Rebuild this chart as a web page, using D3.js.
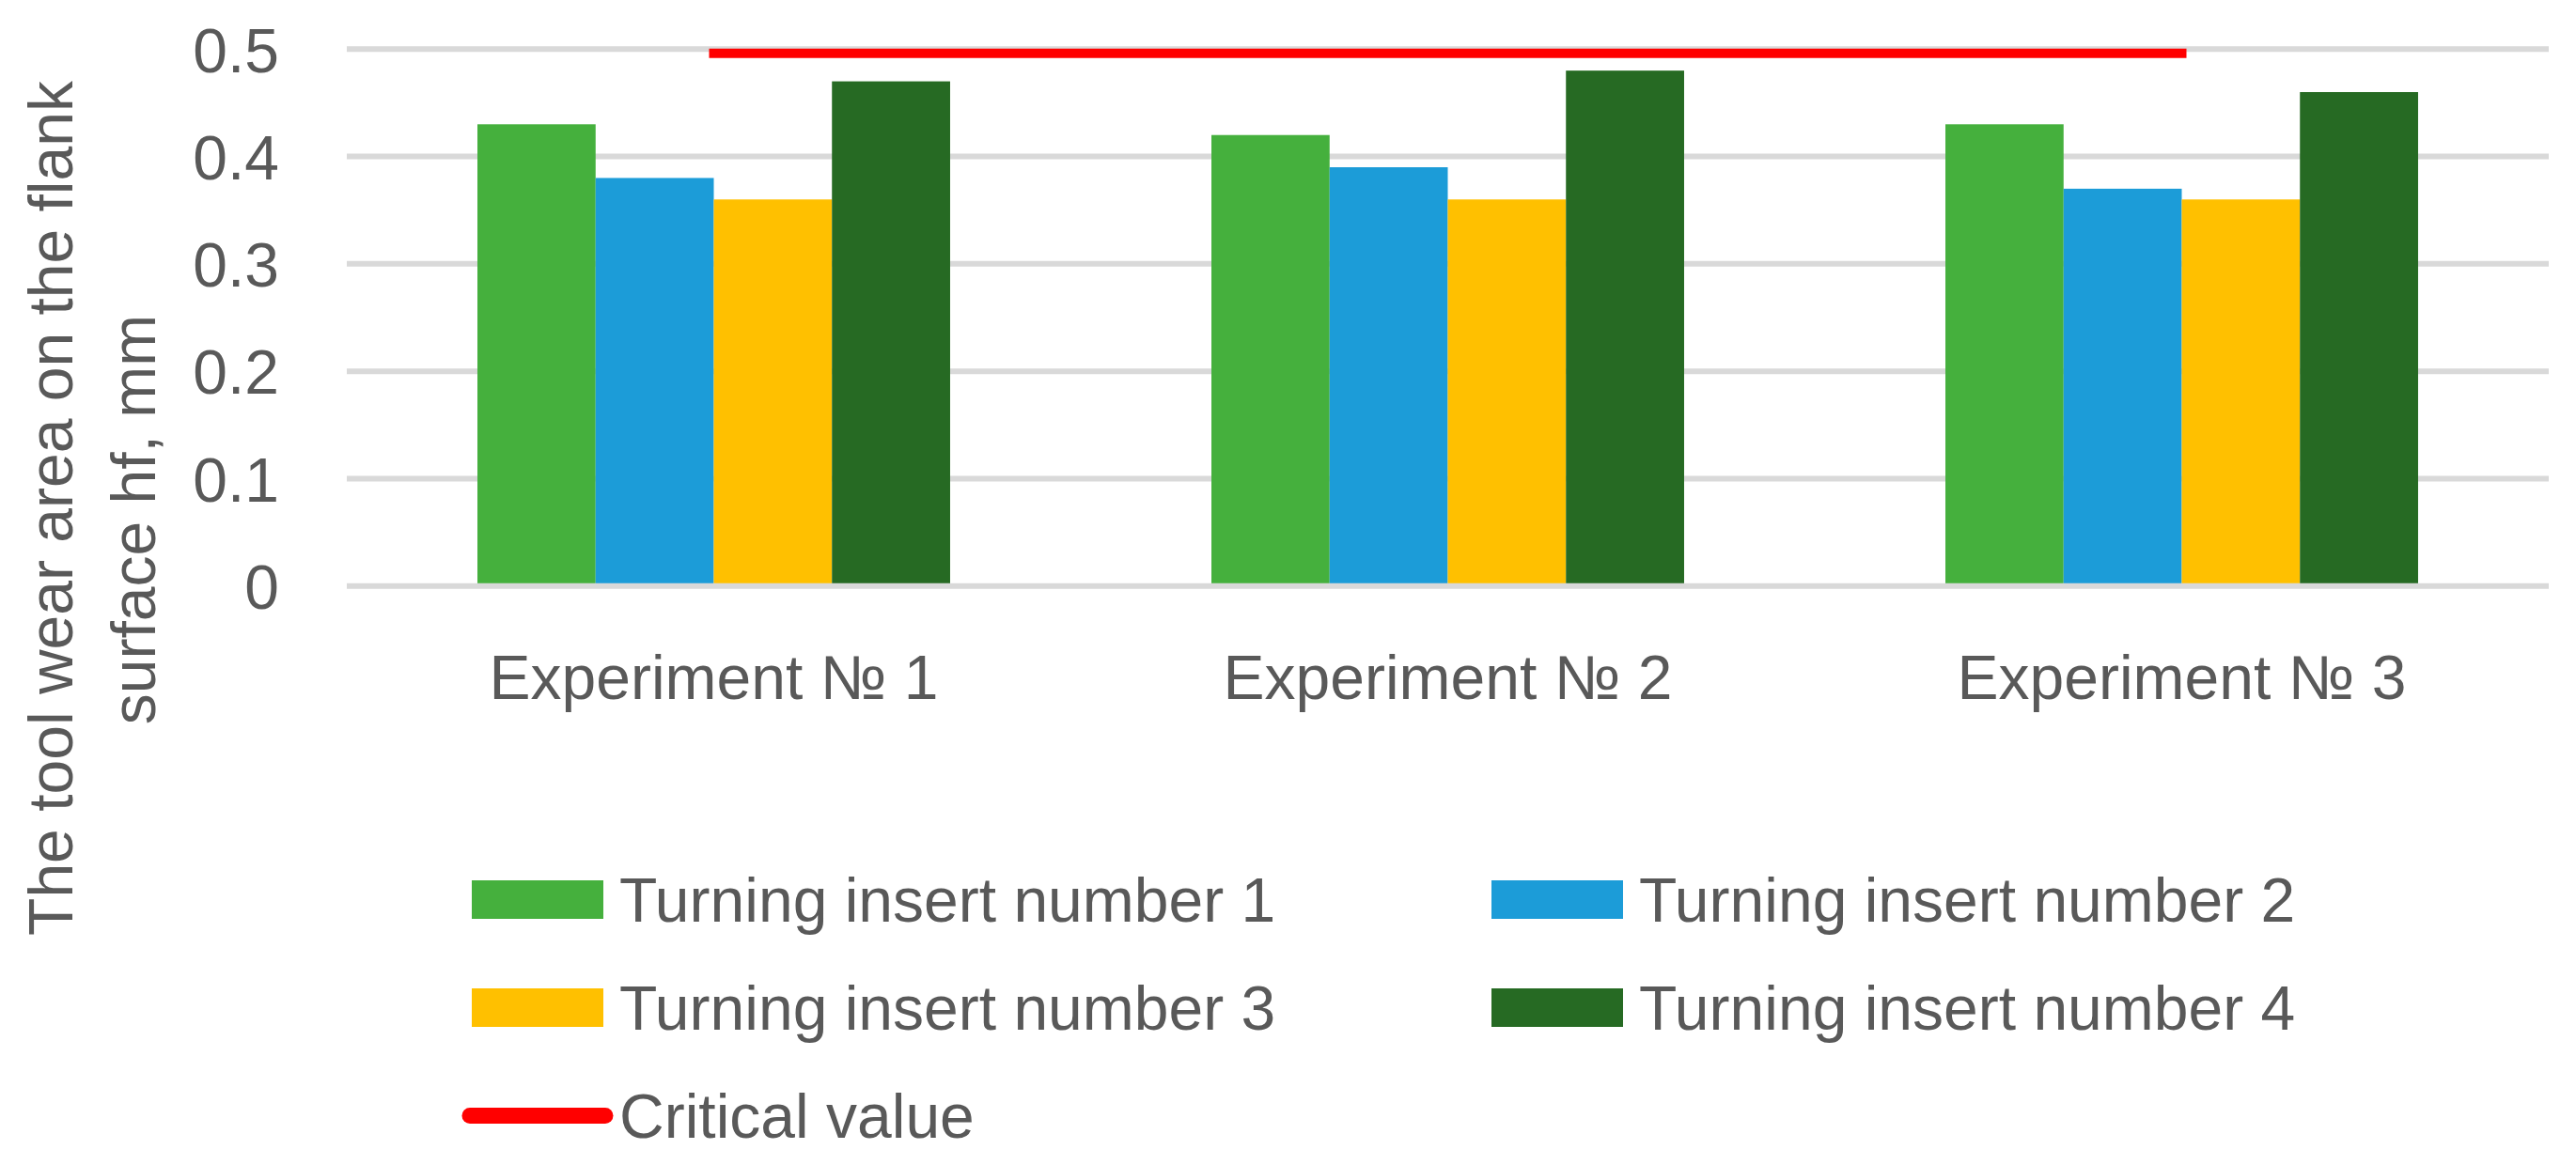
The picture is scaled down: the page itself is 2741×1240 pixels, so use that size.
<!DOCTYPE html>
<html>
<head>
<meta charset="utf-8">
<script src="https://cdn.jsdelivr.net/npm/d3@7"></script>
<style>
  html, body { margin: 0; padding: 0; background: #fff; }
  #chart { width: 2741px; height: 1240px; }
  text { font-family: "Liberation Sans", Arimo, Arial, sans-serif; fill: #595959; }
</style>
</head>
<body>
<div id="chart"></div>
<script>
// data
const experiments = ['Experiment № 1', 'Experiment № 2', 'Experiment № 3'];
const seriesNames = ['Turning insert number 1', 'Turning insert number 2', 'Turning insert number 3', 'Turning insert number 4'];
const insert1 = [0.43, 0.42, 0.43];
const insert2 = [0.38, 0.39, 0.37];
const insert3 = [0.36, 0.36, 0.36];
const insert4 = [0.47, 0.48, 0.46];
const criticalValue = [0.5, 0.5, 0.5];
const yTicks = [0, 0.1, 0.2, 0.3, 0.4, 0.5];
const colors = ['#45B03D', '#1C9CD8', '#FFC000', '#266A23'];

const series = [insert1, insert2, insert3, insert4];

const width = 2741, height = 1240;
const svg = d3.select('#chart').append('svg')
  .attr('width', width).attr('height', height);

const plot = { left: 369, right: 2712, top: 52.3, bottom: 623.7 };

const x0 = d3.scaleBand().domain(experiments).range([plot.left, plot.right]);
const gap = x0.bandwidth() * 0.356;
const x1 = d3.scaleBand().domain(d3.range(series.length)).range([gap / 2, x0.bandwidth() - gap / 2]);
const y = d3.scaleLinear().domain([0, 0.5]).range([plot.bottom, plot.top]);

// gridlines
svg.append('g')
  .selectAll('line')
  .data(yTicks.filter(d => d > 0))
  .join('line')
  .attr('x1', plot.left).attr('x2', plot.right)
  .attr('y1', d => y(d)).attr('y2', d => y(d))
  .attr('stroke', '#D9D9D9').attr('stroke-width', 6);

// y tick labels
const yAxis = d3.axisLeft(y).tickValues(yTicks).tickFormat(d => d === 0 ? '0' : d3.format('.1f')(d)).tickSize(0).tickPadding(72);
const gy = svg.append('g').attr('transform', `translate(${plot.left},0)`).call(yAxis);
gy.select('.domain').remove();
gy.selectAll('text')
  .attr('font-size', 66)
  .attr('font-family', null)
  .attr('fill', null)
  .attr('dy', '0.36em');

// bars
const groups = svg.append('g')
  .selectAll('g')
  .data(experiments)
  .join('g')
  .attr('transform', d => `translate(${x0(d)},0)`);

groups.selectAll('rect')
  .data((d, i) => series.map((s, k) => ({ k, v: s[i] })))
  .join('rect')
  .attr('x', d => x1(d.k))
  .attr('width', x1.bandwidth())
  .attr('y', d => y(d.v))
  .attr('height', d => y(0) - y(d.v))
  .attr('fill', d => colors[d.k]);

// baseline
svg.append('line')
  .attr('x1', plot.left).attr('x2', plot.right)
  .attr('y1', y(0)).attr('y2', y(0))
  .attr('stroke', '#D9D9D9').attr('stroke-width', 6);

// critical value line
const line = d3.line()
  .x((d, i) => x0(experiments[i]) + x0.bandwidth() / 2)
  .y(d => y(d));
svg.append('path')
  .datum(criticalValue)
  .attr('d', line)
  .attr('transform', 'translate(0,4.5)')
  .attr('fill', 'none')
  .attr('stroke', '#FF0000')
  .attr('stroke-width', 10)
  .attr('stroke-linecap', 'square');

// x axis labels
const xAxis = d3.axisBottom(x0).tickSize(0).tickPadding(0);
const gx = svg.append('g').attr('transform', 'translate(0,744)').call(xAxis);
gx.select('.domain').remove();
gx.selectAll('text')
  .attr('font-size', 66)
  .attr('font-family', null)
  .attr('fill', null)
  .attr('dy', 0)
  .attr('y', 0);

// y axis title
svg.append('text')
  .attr('transform', 'translate(77,541) rotate(-90)')
  .attr('text-anchor', 'middle')
  .attr('font-size', 66)
  .text('The tool wear area on the flank');
svg.append('text')
  .attr('transform', 'translate(165,553) rotate(-90)')
  .attr('text-anchor', 'middle')
  .attr('font-size', 66)
  .text('surface hf, mm');

// legend
const legendItems = seriesNames.map((name, k) => ({ name, color: colors[k], type: 'rect' }))
  .concat([{ name: 'Critical value', color: '#FF0000', type: 'line' }]);
const colX = [502, 1587];
const legend = svg.append('g')
  .selectAll('g')
  .data(legendItems)
  .join('g')
  .attr('transform', (d, i) => `translate(${colX[i % 2]},${957.5 + Math.floor(i / 2) * 115})`);

legend.filter(d => d.type === 'rect').append('rect')
  .attr('x', 0).attr('y', -20.5)
  .attr('width', 140).attr('height', 41)
  .attr('fill', d => d.color);

legend.filter(d => d.type === 'line').append('line')
  .attr('x1', -2).attr('x2', 142)
  .attr('y1', 0).attr('y2', 0)
  .attr('stroke', d => d.color)
  .attr('stroke-width', 17)
  .attr('stroke-linecap', 'round');

legend.append('text')
  .attr('x', 157)
  .attr('y', 23.5)
  .attr('font-size', 66)
  .text(d => d.name);
</script>
</body>
</html>
